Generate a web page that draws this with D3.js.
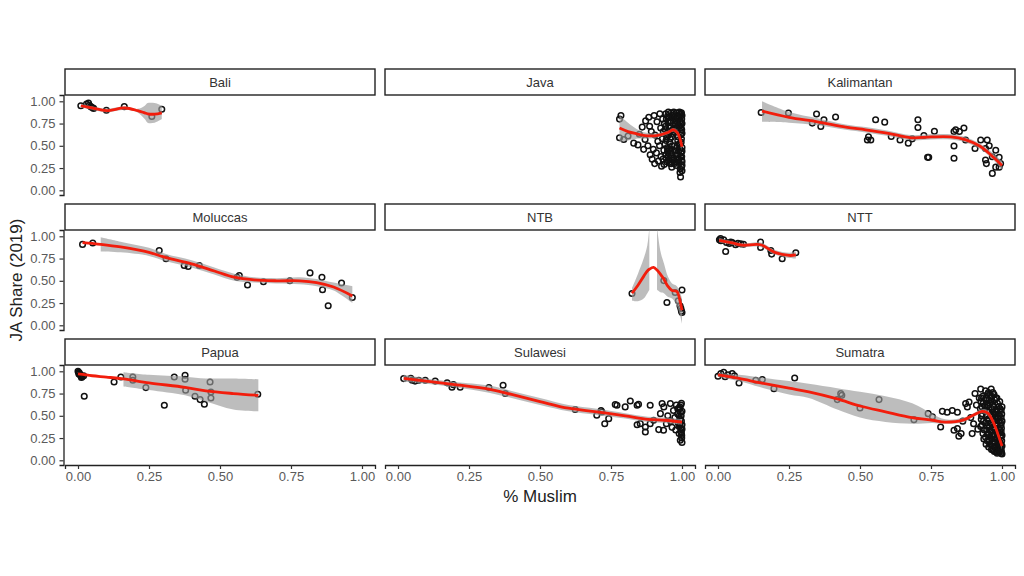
<!DOCTYPE html>
<html><head><meta charset="utf-8">
<script src="https://cdn.jsdelivr.net/npm/d3@7"></script>
<style>body{margin:0;background:#fff;} text{font-family:"Liberation Sans",Arial,sans-serif;}</style>
</head><body><svg id="c" width="1024" height="576"></svg>
<script>
// ---- data (x = share Muslim, y = JA share 2019) ----
const regions = ["Bali","Java","Kalimantan","Moluccas","NTB","NTT","Papua","Sulawesi","Sumatra"];
const xTicks = [0,0.25,0.5,0.75,1];
const xTickLabels = ["0.00","0.25","0.50","0.75","1.00"];
const yTicks = [0,0.25,0.5,0.75,1];
const yTickLabels = ["0.00","0.25","0.50","0.75","1.00"];
const xTitle = "% Muslim";
const yTitle = "JA Share (2019)";

const baliPts = [[.01,.95],[.03,.97],[.037,.98],[.04,.955],[.045,.94],[.05,.93],[.055,.92],[.10,.90],[.163,.94],[.26,.83],[.295,.91]];
const javaPts = [[.78,.80],[.785,.84],[.78,.59],[.795,.57],[.81,.61],[.83,.53],[.845,.51],[.86,.71],[.85,.63],[.87,.57],[.865,.46],[.88,.50],
[.872,.78],[.883,.82],[.886,.72],[.892,.66],[.888,.40],[.895,.35],[.902,.84],[.905,.62],[.899,.46],[.904,.30],[.912,.77],[.915,.55],[.91,.42],[.917,.33],[.922,.86],[.925,.70],[.921,.50],[.926,.38],[.928,.27],[.932,.80],[.934,.66],[.931,.58],[.936,.45],[.933,.35],[.938,.75],[.94,.52],[.937,.29],
[.943,.86],[.945,.80],[.942,.72],[.946,.64],[.944,.56],[.948,.48],[.943,.40],[.947,.32],
[.952,.88],[.954,.82],[.951,.76],[.956,.70],[.953,.62],[.957,.54],[.955,.46],[.952,.38],[.958,.30],
[.962,.87],[.964,.84],[.961,.78],[.966,.68],[.963,.60],[.965,.50],[.962,.42],[.967,.34],[.964,.26],
[.971,.88],[.973,.85],[.972,.80],[.975,.74],[.97,.66],[.974,.50],[.976,.44],[.971,.36],[.973,.30],
[.981,.87],[.983,.84],[.98,.80],[.984,.76],[.982,.70],[.985,.56],[.981,.48],[.983,.40],[.986,.34],[.98,.28],
[.991,.88],[.993,.85],[.99,.82],[.994,.78],[.992,.72],[.995,.66],[.991,.52],[.993,.46],[.996,.38],[.99,.32],[.994,.24],
[.998,.87],[1.0,.84],[.999,.80],[1.0,.75],[.997,.70],[1.0,.64],[.998,.58],[1.0,.44],[.999,.38],[1.0,.32],[.998,.26],[.995,.15],
[.941,.68],[.946,.60],[.949,.44],[.944,.36],[.95,.84],[.957,.78],[.953,.66],[.958,.58],[.951,.42],[.956,.34],[.96,.72],[.967,.64],[.961,.46],[.966,.38],[.963,.30],[.969,.82],[.977,.78],[.972,.70],[.978,.40],[.975,.32],
[.986,.82],[.988,.72],[.987,.60],[.989,.52],[.988,.44],[.987,.36],[.989,.30],[.996,.86],[.997,.76],[.999,.68],[.996,.62],[.997,.54],[1.0,.48],[.996,.42],[.999,.34],[1.0,.28],[.993,.20],[1.0,.22]];
const kalimantanPts = [[.152,.875],[.248,.868],[.347,.857],[.332,.755],[.362,.717],[.373,.793],[.414,.823],[.526,.566],[.538,.566],[.53,.60],[.555,.793],[.587,.766],[.61,.604],[.641,.566],[.67,.53],[.684,.578],[.704,.793],[.704,.706],[.725,.615],[.762,.664],[.738,.37],[.742,.37],[.831,.66],[.837,.68],[.866,.70],[.85,.66],[.831,.498],[.831,.36],[.872,.566],[.905,.47],[.925,.566],[.948,.566],[.942,.47],[.955,.50],[.942,.34],[.945,.30],[.966,.377],[.978,.45],[.99,.37],[.995,.30],[.966,.19],[.978,.26],[.99,.26]];
const moluccasPts = [[.016,.909],[.052,.924],[.286,.841],[.31,.747],[.374,.672],[.388,.66],[.427,.672],[.56,.539],[.568,.558],[.597,.453],[.653,.49],[.746,.50],[.817,.589],[.859,.539],[.861,.40],[.881,.219],[.928,.476],[.966,.313]];
const ntbPts = [[.824,.358],[.936,.502],[.947,.256],[.976,.369],[1.0,.396],[.987,.275],[.993,.219],[.998,.162],[1.0,.143],[.996,.19]];
const nttPts = [[.005,.96],[.009,.974],[.01,.95],[.02,.96],[.027,.83],[.03,.93],[.04,.92],[.045,.935],[.05,.93],[.062,.906],[.07,.92],[.08,.915],[.09,.91],[.15,.935],[.15,.875],[.186,.84],[.189,.80],[.226,.747],[.274,.815]];
const papuaPts = [[0,1.0],[.002,.99],[.005,.98],[.003,.97],[.008,.96],[.01,.95],[.015,.94],[.02,.95],[.012,.93],[.022,.72],[.127,.88],[.151,.936],[.193,.936],[.193,.90],[.239,.817],[.304,.618],[.339,.936],[.377,.955],[.377,.91],[.379,.787],[.412,.719],[.43,.682],[.445,.629],[.465,.88],[.468,.767],[.468,.70],[.633,.742]];
const sulawesiPts = [[.02,.918],[.045,.92],[.05,.90],[.06,.89],[.073,.90],[.096,.90],[.131,.89],[.173,.87],[.19,.82],[.195,.85],[.219,.82],[.32,.817],[.37,.843],[.378,.75],[.624,.57],[.70,.506],[.715,.56],[.718,.543],[.728,.41],[.742,.468],[.765,.626],[.771,.618],[.80,.60],[.818,.666],[.842,.618],[.847,.629],[.842,.40],[.853,.412],[.871,.374],[.871,.318],[.888,.618],[.888,.412],[.90,.45],[.918,.345],[.924,.524],[.93,.637],[.935,.337],[.936,.60],[.945,.41],[.95,.50],[.959,.637],[.96,.44],[.965,.37],[.97,.56],[.975,.48],[.978,.34],[.98,.62],[.985,.52],[.987,.42],[.99,.30],[.992,.58],[.994,.46],[.994,.225],[.996,.36],[.998,.64],[1.0,.55],[1.0,.40],[1.0,.20],[.999,.28],[.997,.50],
[.99,.50],[.995,.54],[.998,.44],[.993,.40],[.997,.32],[.999,.25],[.992,.60],[.996,.62],[.998,.30],[1.0,.35],[.99,.38],[.985,.58]];
const sumatraPts = [[0,.944],[.01,.974],[.02,.99],[.025,.94],[.035,.96],[.05,.974],[.058,.95],[.074,.869],[.133,.90],[.156,.907],[.197,.805],[.27,.925],[.42,.682],[.432,.749],[.436,.73],[.50,.588],[.567,.682],[.69,.457],[.74,.524],[.755,.49],
[.784,.375],[.79,.55],[.807,.54],[.825,.56],[.843,.54],[.831,.337],[.843,.356],[.848,.27],[.856,.30],[.862,.44],[.872,.637],[.878,.60],[.884,.655],[.89,.48],[.895,.30],[.90,.41],[.905,.75],[.91,.62],[.915,.35],[.92,.70],
[.925,.80],[.926,.66],[.924,.58],[.927,.46],[.925,.38],
[.932,.72],[.934,.64],[.931,.52],[.935,.44],[.933,.30],[.936,.24],
[.942,.78],[.944,.70],[.941,.60],[.945,.50],[.943,.42],[.946,.34],[.942,.26],[.944,.18],
[.952,.76],[.954,.68],[.951,.62],[.955,.54],[.953,.46],[.956,.38],[.952,.30],[.955,.22],[.953,.15],
[.962,.80],[.964,.72],[.961,.66],[.965,.58],[.963,.50],[.966,.40],[.962,.32],[.964,.24],[.966,.16],[.963,.12],
[.972,.74],[.974,.68],[.971,.60],[.975,.52],[.973,.44],[.976,.36],[.972,.28],[.974,.20],[.976,.14],[.973,.10],
[.982,.70],[.984,.64],[.981,.56],[.985,.48],[.983,.40],[.986,.32],[.982,.26],[.984,.18],[.986,.12],[.983,.08],
[.992,.66],[.994,.58],[.991,.50],[.995,.42],[.993,.34],[.996,.28],[.992,.20],[.994,.14],[.991,.10],
[1.0,.60],[.999,.52],[1.0,.44],[.998,.36],[1.0,.28],[.999,.22],[1.0,.16],[.998,.10],[1.0,.07],
[.928,.70],[.93,.60],[.928,.50],[.93,.40],[.938,.34],[.938,.56],[.948,.74],[.948,.64],[.947,.56],[.949,.46],[.948,.38],[.949,.30],[.948,.22],
[.958,.72],[.958,.64],[.959,.50],[.958,.42],[.959,.34],[.958,.26],[.958,.18],[.968,.76],[.968,.62],[.969,.54],[.968,.46],[.969,.36],[.968,.28],[.968,.20],[.968,.12],
[.978,.70],[.978,.56],[.979,.48],[.978,.40],[.979,.32],[.978,.24],[.978,.16],[.978,.10],[.988,.60],[.988,.52],[.989,.44],[.988,.36],[.989,.30],[.988,.22],[.988,.15],[.988,.09],
[.997,.56],[.997,.48],[.997,.40],[.997,.32],[.996,.25],[.997,.18],[.996,.12],[.997,.08]];

// loess fits: [x, fit, lower, upper]
const baliFit = [[.01,.95,.93,.97],[.05,.925,.905,.945],[.10,.895,.875,.915],[.165,.925,.905,.945],[.21,.895,.875,.915],[.235,.87,.80,.95],[.245,.86,.76,.98],[.27,.855,.76,.98],[.295,.87,.80,.95]];
const javaFit = [[.78,.70,.54,.84],[.81,.66,.56,.76],[.84,.635,.58,.69],[.87,.615,.58,.65],[.91,.615,.59,.64],[.95,.65,.63,.67],[.97,.68,.66,.70],[.985,.64,.61,.67],[1.0,.49,.45,.53]];
const kalimantanFit = [[.155,.89,.77,1.0],[.25,.82,.76,.88],[.35,.77,.73,.81],[.45,.71,.68,.74],[.52,.68,.65,.71],[.6,.64,.61,.67],[.68,.59,.56,.62],[.75,.60,.57,.63],[.82,.60,.57,.63],[.87,.57,.54,.60],[.92,.50,.47,.53],[.96,.40,.37,.44],[1.0,.28,.23,.33]];
const moluccasFit = [[.016,.93,null,null],[.05,.92,null,null],[.08,.91,.83,.99],[.15,.88,.82,.94],[.25,.82,.78,.87],[.31,.76,.72,.80],[.4,.69,.65,.73],[.48,.61,.57,.65],[.55,.54,.50,.58],[.62,.51,.48,.54],[.7,.50,.47,.53],[.78,.50,.46,.54],[.84,.48,.44,.52],[.9,.43,.39,.48],[.966,.33,.25,.44]];
const ntbFit = [[.824,.36,.28,.42],[.845,.45,.27,.58],[.865,.55,.30,.75],[.878,.61,.36,.90],[.885,.63,.40,1.1],[.90,.65,null,null],[.912,.62,.40,1.1],[.925,.57,.37,.82],[.936,.52,.36,.70],[.95,.44,.32,.55],[.965,.39,.30,.47],[.982,.38,.22,.44],[.994,.26,.10,.36],[1.0,.17,.02,.30]];
const nttFit = [[.004,.955,.93,.98],[.05,.925,.905,.945],[.086,.90,.88,.92],[.15,.905,.88,.93],[.2,.82,.795,.845],[.25,.785,.755,.815],[.274,.79,.75,.83]];
const papuaFit = [[0,.97,null,null],[.05,.95,null,null],[.1,.935,null,null],[.16,.915,.83,.99],[.25,.87,.79,.96],[.377,.82,.73,.94],[.45,.78,.66,.92],[.547,.75,.57,.92],[.635,.73,.55,.91]];
const sulawesiFit = [[.02,.92,.88,.96],[.1,.89,.86,.92],[.2,.85,.82,.88],[.32,.80,.76,.84],[.4,.74,.70,.78],[.5,.66,.62,.70],[.6,.585,.55,.62],[.7,.545,.51,.58],[.8,.50,.47,.53],[.88,.46,.43,.49],[.94,.45,.42,.48],[1.0,.43,.40,.46]];
const sumatraFit = [[0,.96,.94,.98],[.074,.92,.89,.96],[.15,.87,.82,.93],[.25,.81,.74,.89],[.32,.77,.70,.86],[.42,.69,.57,.81],[.5,.61,.48,.77],[.59,.545,.43,.72],[.684,.48,.41,.64],[.755,.45,.42,.52],[.8,.43,.41,.46],[.866,.455,.43,.48],[.9,.51,.49,.53],[.93,.55,.53,.575],[.95,.53,.50,.56],[.972,.41,.38,.44],[.985,.30,.27,.33],[1.0,.16,.12,.20]];

const regionPts = [baliPts, javaPts, kalimantanPts, moluccasPts, ntbPts, nttPts, papuaPts, sulawesiPts, sumatraPts];
const regionFit = [baliFit, javaFit, kalimantanFit, moluccasFit, ntbFit, nttFit, papuaFit, sulawesiFit, sumatraFit];

// ---- layout ----
const svg = d3.select("#c");
const colLeft = [65, 385, 705];
const stripTop = [69, 204, 339];
const stripH = 26, panelW = 310, panelH = 100;

const x = d3.scaleLinear().domain([-0.0458, 1.0458]).range([0, panelW]);
const y = d3.scaleLinear().domain([-0.0528, 1.0708]).range([panelH, 0]);

const area = d3.area().defined(d => d[2] != null)
  .x(d => x(d[0])).y0(d => y(d[2])).y1(d => y(d[3])).curve(d3.curveCatmullRom);
const line = d3.line().x(d => x(d[0])).y(d => y(d[1])).curve(d3.curveCatmullRom);

regions.forEach((name, i) => {
  const col = i % 3, row = Math.floor(i / 3);
  const gx = colLeft[col], st = stripTop[row], pt = st + stripH;

  // strip
  svg.append("rect").attr("x", gx).attr("y", st).attr("width", panelW).attr("height", stripH)
    .attr("fill", "#fff").attr("stroke", "#222").attr("stroke-width", 1.4);
  svg.append("text").attr("x", gx + panelW / 2).attr("y", st + stripH / 2 + 4.5)
    .attr("text-anchor", "middle").attr("font-size", 13).attr("fill", "#333").text(name);

  const g = svg.append("g").attr("transform", `translate(${gx},${pt})`);
  g.append("clipPath").attr("id", "clip" + i).append("rect")
    .attr("width", panelW).attr("height", panelH);
  const pg = g.append("g").attr("clip-path", `url(#clip${i})`);

  pg.selectAll("circle").data(regionPts[i]).join("circle")
    .attr("cx", d => x(d[0])).attr("cy", d => y(d[1])).attr("r", 2.8)
    .attr("fill", "none").attr("stroke", "#111").attr("stroke-width", 1.5);

  pg.append("path").datum(regionFit[i]).attr("d", area)
    .attr("fill", "#999").attr("fill-opacity", 0.65);
  pg.append("path").datum(regionFit[i]).attr("d", line)
    .attr("fill", "none").attr("stroke", "#f21d0c").attr("stroke-width", 2.8);

  // y axis (first column)
  if (col === 0) {
    const ya = g.append("g").attr("transform", "translate(-1.5,0)")
      .call(d3.axisLeft(y).tickValues(yTicks).tickFormat((d, k) => yTickLabels[k]).tickSize(4).tickPadding(4));
    ya.select(".domain").attr("stroke", "#222").attr("stroke-width", 1.3);
    ya.selectAll(".tick line").attr("stroke", "#333").attr("stroke-width", 1.2);
    ya.selectAll("text").attr("font-size", 13).attr("fill", "#5a5a5a").attr("font-family", '"Liberation Sans",Arial,sans-serif');
  }
  // x axis (bottom row)
  if (row === 2) {
    const xa = g.append("g").attr("transform", `translate(0,${panelH})`)
      .call(d3.axisBottom(x).tickValues(xTicks).tickFormat((d, k) => xTickLabels[k]).tickSize(4).tickPadding(3));
    xa.select(".domain").attr("stroke", "#222").attr("stroke-width", 1.3);
    xa.selectAll(".tick line").attr("stroke", "#333").attr("stroke-width", 1.2);
    xa.selectAll("text").attr("font-size", 13).attr("fill", "#5a5a5a").attr("font-family", '"Liberation Sans",Arial,sans-serif');
  }
});

svg.append("text").attr("x", 540).attr("y", 502).attr("text-anchor", "middle")
  .attr("font-size", 17).attr("fill", "#222").text(xTitle);
svg.append("text").attr("transform", "translate(22,280) rotate(-90)").attr("text-anchor", "middle")
  .attr("font-size", 17).attr("fill", "#222").text(yTitle);
</script></body></html>
